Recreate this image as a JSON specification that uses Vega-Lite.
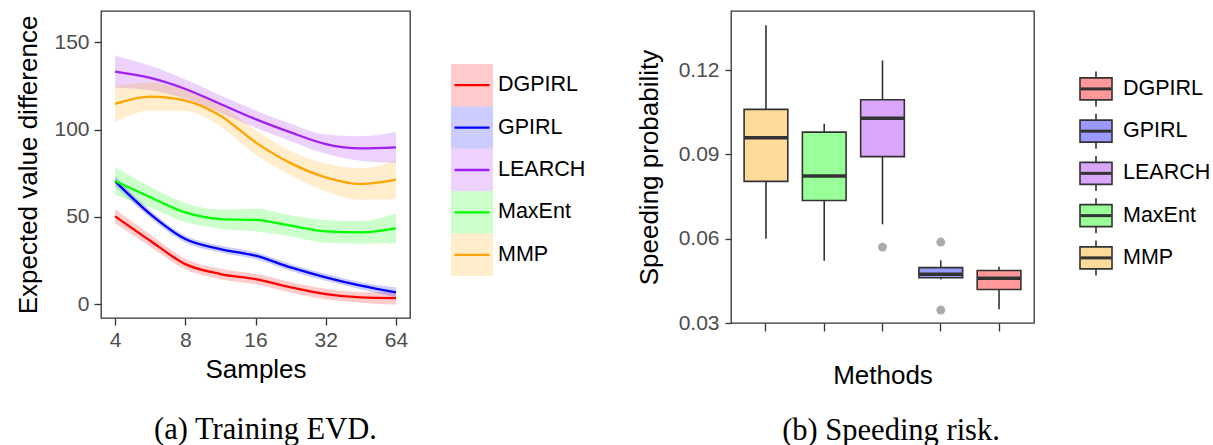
{
  "$schema": "https://vega.github.io/schema/vega-lite/v6.json",
  "background": "white",
  "padding": {"left": 15, "top": 10, "right": 0, "bottom": 0},
  "spacing": 0,
  "config": {
    "font": "Liberation Sans",
    "view": {"stroke": "#333333", "strokeWidth": 1.3},
    "axis": {
      "labelFont": "Liberation Sans", "titleFont": "Liberation Sans",
      "labelFontSize": 21, "labelColor": "#4D4D4D",
      "titleFontSize": 26, "titleFontWeight": "normal", "titleColor": "black",
      "tickColor": "#333333", "tickSize": 7, "tickWidth": 1.3,
      "domain": false, "grid": false, "labelPadding": 4
    }
  },
  "datasets": {
    "evd": [
      {"method": "DGPIRL", "samples": 4, "value": 50.3, "lo": 46.3, "hi": 54.3},
      {"method": "DGPIRL", "samples": 5.66, "value": 36.3, "lo": 32.8, "hi": 39.8},
      {"method": "DGPIRL", "samples": 8, "value": 22.9, "lo": 19.9, "hi": 25.9},
      {"method": "DGPIRL", "samples": 11.31, "value": 17.2, "lo": 14.2, "hi": 20.2},
      {"method": "DGPIRL", "samples": 16, "value": 14.3, "lo": 11.3, "hi": 17.3},
      {"method": "DGPIRL", "samples": 22.63, "value": 9.6, "lo": 6.6, "hi": 12.6},
      {"method": "DGPIRL", "samples": 32, "value": 5.7, "lo": 2.7, "hi": 8.7},
      {"method": "DGPIRL", "samples": 45.25, "value": 3.8, "lo": 0.8, "hi": 6.8},
      {"method": "DGPIRL", "samples": 64, "value": 3.4, "lo": -0.4, "hi": 7.2},
      {"method": "GPIRL", "samples": 4, "value": 70.5, "lo": 67.5, "hi": 73.5},
      {"method": "GPIRL", "samples": 5.66, "value": 51.6, "lo": 49.4, "hi": 53.8},
      {"method": "GPIRL", "samples": 8, "value": 37.3, "lo": 35.3, "hi": 39.3},
      {"method": "GPIRL", "samples": 11.31, "value": 31.5, "lo": 29.5, "hi": 33.5},
      {"method": "GPIRL", "samples": 16, "value": 27.7, "lo": 25.7, "hi": 29.7},
      {"method": "GPIRL", "samples": 22.63, "value": 21, "lo": 19, "hi": 23},
      {"method": "GPIRL", "samples": 32, "value": 15.3, "lo": 13.3, "hi": 17.3},
      {"method": "GPIRL", "samples": 45.25, "value": 10.5, "lo": 8.5, "hi": 12.5},
      {"method": "GPIRL", "samples": 64, "value": 6.7, "lo": 3.9, "hi": 9.5},
      {"method": "LEARCH", "samples": 4, "value": 133.2, "lo": 124, "hi": 142.4},
      {"method": "LEARCH", "samples": 5.66, "value": 129.6, "lo": 122.6, "hi": 136.6},
      {"method": "LEARCH", "samples": 8, "value": 123.3, "lo": 117.8, "hi": 128.8},
      {"method": "LEARCH", "samples": 11.31, "value": 114.7, "lo": 109.7, "hi": 119.7},
      {"method": "LEARCH", "samples": 16, "value": 106, "lo": 101, "hi": 111},
      {"method": "LEARCH", "samples": 22.63, "value": 98.4, "lo": 93.4, "hi": 103.4},
      {"method": "LEARCH", "samples": 32, "value": 91.7, "lo": 86.2, "hi": 97.2},
      {"method": "LEARCH", "samples": 45.25, "value": 89.2, "lo": 82.2, "hi": 96.2},
      {"method": "LEARCH", "samples": 64, "value": 89.8, "lo": 81, "hi": 98.6},
      {"method": "MaxEnt", "samples": 4, "value": 70.5, "lo": 62.5, "hi": 78.5},
      {"method": "MaxEnt", "samples": 5.66, "value": 61.2, "lo": 55.2, "hi": 67.2},
      {"method": "MaxEnt", "samples": 8, "value": 52.5, "lo": 47, "hi": 58},
      {"method": "MaxEnt", "samples": 11.31, "value": 48.7, "lo": 43.2, "hi": 54.2},
      {"method": "MaxEnt", "samples": 16, "value": 48.2, "lo": 41.7, "hi": 54.7},
      {"method": "MaxEnt", "samples": 22.63, "value": 44.9, "lo": 38.9, "hi": 50.9},
      {"method": "MaxEnt", "samples": 32, "value": 41.7, "lo": 35.2, "hi": 48.2},
      {"method": "MaxEnt", "samples": 45.25, "value": 41.1, "lo": 34.6, "hi": 47.6},
      {"method": "MaxEnt", "samples": 64, "value": 43.4, "lo": 34.9, "hi": 51.9},
      {"method": "MMP", "samples": 4, "value": 114.7, "lo": 104.2, "hi": 125.2},
      {"method": "MMP", "samples": 5.66, "value": 118.9, "lo": 110.9, "hi": 126.9},
      {"method": "MMP", "samples": 8, "value": 116.6, "lo": 110.6, "hi": 122.6},
      {"method": "MMP", "samples": 11.31, "value": 108, "lo": 102, "hi": 114},
      {"method": "MMP", "samples": 16, "value": 92.7, "lo": 85.7, "hi": 99.7},
      {"method": "MMP", "samples": 22.63, "value": 80.8, "lo": 73.8, "hi": 87.8},
      {"method": "MMP", "samples": 32, "value": 72.6, "lo": 64.6, "hi": 80.6},
      {"method": "MMP", "samples": 45.25, "value": 68.8, "lo": 59.8, "hi": 77.8},
      {"method": "MMP", "samples": 64, "value": 71.3, "lo": 60.1, "hi": 82.5}
    ],
    "box": [
      {"method": "MMP", "lower": 0.060, "q1": 0.0804, "median": 0.0959, "q3": 0.106, "upper": 0.1359},
      {"method": "MaxEnt", "lower": 0.0521, "q1": 0.0736, "median": 0.0823, "q3": 0.0979, "upper": 0.1009},
      {"method": "LEARCH", "lower": 0.0651, "q1": 0.0892, "median": 0.1028, "q3": 0.1094, "upper": 0.1234},
      {"method": "GPIRL", "lower": 0.0455, "q1": 0.0461, "median": 0.0473, "q3": 0.0497, "upper": 0.0523},
      {"method": "DGPIRL", "lower": 0.0349, "q1": 0.0419, "median": 0.0459, "q3": 0.0487, "upper": 0.050}
    ],
    "outliers": [
      {"method": "LEARCH", "value": 0.057},
      {"method": "GPIRL", "value": 0.0588},
      {"method": "GPIRL", "value": 0.0346}
    ],
    "methods": [
      {"method": "DGPIRL"}, {"method": "GPIRL"}, {"method": "LEARCH"}, {"method": "MaxEnt"}, {"method": "MMP"}
    ]
  },
  "hconcat": [
    {
      "width": 309, "height": 307,
      "data": {"name": "evd"},
      "title": {"text": "(a) Training EVD.", "orient": "bottom", "anchor": "middle", "frame": "group", "font": "Liberation Serif", "fontSize": 30.5, "fontWeight": "normal", "color": "black", "offset": 33, "dx": 10},
      "layer": [
        {
          "mark": {"type": "area", "interpolate": "monotone", "opacity": 0.2},
          "encoding": {
            "x": {"field": "samples", "type": "quantitative", "scale": {"type": "log", "base": 2, "domain": [3.48, 73.5], "nice": false}, "axis": {"values": [4, 8, 16, 32, 64], "format": "d", "title": "Samples", "labelFlush": false, "titlePadding": 6}},
            "y": {"field": "lo", "type": "quantitative", "stack": null, "scale": {"domain": [-8, 168], "nice": false, "zero": false}, "axis": {"values": [0, 50, 100, 150], "title": "Expected value difference", "titlePadding": 12, "labelPadding": 5}},
            "y2": {"field": "hi"},
            "color": {"field": "method", "type": "nominal", "scale": {"domain": ["DGPIRL", "GPIRL", "LEARCH", "MaxEnt", "MMP"], "range": ["#FF0000", "#0000FF", "#A020F0", "#00FF00", "#FFA500"]}, "legend": null}
          }
        },
        {
          "mark": {"type": "line", "interpolate": "monotone", "strokeWidth": 2.3},
          "encoding": {
            "x": {"field": "samples", "type": "quantitative"},
            "y": {"field": "value", "type": "quantitative"},
            "color": {"field": "method", "type": "nominal", "legend": null}
          }
        }
      ]
    },
    {
      "width": 224, "height": 265,
      "view": {"stroke": null},
      "data": {"name": "methods"},
      "encoding": {
        "y": {"field": "method", "type": "nominal", "sort": ["DGPIRL", "GPIRL", "LEARCH", "MaxEnt", "MMP"], "scale": {"paddingInner": 0, "paddingOuter": 0.625, "align": 1}, "axis": null}
      },
      "layer": [
        {
          "mark": {"type": "rect", "opacity": 0.2},
          "encoding": {
            "x": {"datum": 40, "type": "quantitative", "scale": {"domain": [0, 224], "nice": false, "zero": false}, "axis": null},
            "x2": {"datum": 82},
            "color": {"field": "method", "type": "nominal", "scale": {"domain": ["DGPIRL", "GPIRL", "LEARCH", "MaxEnt", "MMP"], "range": ["#FF0000", "#0000FF", "#A020F0", "#00FF00", "#FFA500"]}, "legend": null}
          }
        },
        {
          "mark": {"type": "tick", "orient": "horizontal", "size": 35, "thickness": 2.3, "opacity": 1},
          "encoding": {
            "x": {"datum": 61, "type": "quantitative"},
            "color": {"field": "method", "type": "nominal", "legend": null}
          }
        },
        {
          "mark": {"type": "text", "align": "left", "baseline": "middle", "fontSize": 21.5, "font": "Liberation Sans", "color": "black"},
          "encoding": {
            "x": {"datum": 87, "type": "quantitative"},
            "text": {"field": "method"}
          }
        }
      ]
    },
    {
      "width": 303, "height": 312,
      "title": {"text": "(b) Speeding risk.", "orient": "bottom", "anchor": "middle", "frame": "group", "font": "Liberation Serif", "fontSize": 30.5, "fontWeight": "normal", "color": "black", "offset": 27, "dx": 8.5},
      "layer": [
        {
          "data": {"name": "box"},
          "mark": {"type": "rule", "color": "#333333", "strokeWidth": 1.6},
          "encoding": {
            "x": {"field": "method", "type": "nominal", "sort": ["MMP", "MaxEnt", "LEARCH", "GPIRL", "DGPIRL"], "scale": {"paddingInner": 0, "paddingOuter": 0.1}, "axis": {"title": "Methods", "labels": false, "tickSize": 8, "titlePadding": 31}},
            "y": {"field": "lower", "type": "quantitative", "scale": {"domain": [0.03, 0.141], "nice": false, "zero": false}, "axis": {"values": [0.03, 0.06, 0.09, 0.12], "format": ".2f", "title": "Speeding probability", "tickSize": 6, "labelPadding": 6, "titlePadding": 16}},
            "y2": {"field": "upper"}
          }
        },
        {
          "data": {"name": "box"},
          "mark": {"type": "bar", "width": {"band": 0.75}, "stroke": "#333333", "strokeWidth": 1.6},
          "encoding": {
            "x": {"field": "method", "type": "nominal", "sort": ["MMP", "MaxEnt", "LEARCH", "GPIRL", "DGPIRL"]},
            "y": {"field": "q1", "type": "quantitative"},
            "y2": {"field": "q3"},
            "fill": {"field": "method", "type": "nominal", "scale": {"domain": ["DGPIRL", "GPIRL", "LEARCH", "MaxEnt", "MMP"], "range": ["#FF9999", "#9999FF", "#D9A6F9", "#99FF99", "#FFDB99"]}, "legend": null}
          }
        },
        {
          "data": {"name": "box"},
          "mark": {"type": "tick", "color": "#333333", "size": 44, "thickness": 3.5, "opacity": 1},
          "encoding": {
            "x": {"field": "method", "type": "nominal", "sort": ["MMP", "MaxEnt", "LEARCH", "GPIRL", "DGPIRL"]},
            "y": {"field": "median", "type": "quantitative"}
          }
        },
        {
          "data": {"name": "outliers"},
          "mark": {"type": "circle", "size": 80, "color": "#ABABAB", "opacity": 1},
          "encoding": {
            "x": {"field": "method", "type": "nominal", "sort": ["MMP", "MaxEnt", "LEARCH", "GPIRL", "DGPIRL"]},
            "y": {"field": "value", "type": "quantitative"}
          }
        }
      ]
    },
    {
      "width": 180, "height": 268,
      "view": {"stroke": null},
      "data": {"name": "methods"},
      "encoding": {
        "y": {"field": "method", "type": "nominal", "sort": ["DGPIRL", "GPIRL", "LEARCH", "MaxEnt", "MMP"], "scale": {"paddingInner": 0, "paddingOuter": 0.672, "align": 1}, "axis": null}
      },
      "layer": [
        {
          "mark": {"type": "tick", "orient": "vertical", "size": 35, "thickness": 1.6, "color": "#333333", "opacity": 1},
          "encoding": {
            "x": {"datum": 61, "type": "quantitative", "scale": {"domain": [0, 180], "nice": false, "zero": false}, "axis": null}
          }
        },
        {
          "mark": {"type": "bar", "height": {"band": 0.52}, "stroke": "#333333", "strokeWidth": 1.6},
          "encoding": {
            "x": {"datum": 45, "type": "quantitative"},
            "x2": {"datum": 77},
            "fill": {"field": "method", "type": "nominal", "scale": {"domain": ["DGPIRL", "GPIRL", "LEARCH", "MaxEnt", "MMP"], "range": ["#FF9999", "#9999FF", "#D9A6F9", "#99FF99", "#FFDB99"]}, "legend": null}
          }
        },
        {
          "mark": {"type": "tick", "orient": "horizontal", "size": 31, "thickness": 3, "color": "#333333", "opacity": 1},
          "encoding": {
            "x": {"datum": 61, "type": "quantitative"}
          }
        },
        {
          "mark": {"type": "text", "align": "left", "baseline": "middle", "fontSize": 21.5, "font": "Liberation Sans", "color": "black"},
          "encoding": {
            "x": {"datum": 88, "type": "quantitative"},
            "text": {"field": "method"}
          }
        }
      ]
    }
  ],
  "resolve": {"scale": {"color": "independent", "fill": "independent", "x": "independent", "y": "independent"}}
}
